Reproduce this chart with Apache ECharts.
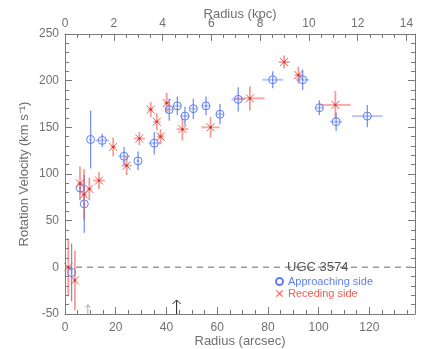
<!DOCTYPE html>
<html>
<head>
<meta charset="utf-8">
<script src="https://cdn.jsdelivr.net/npm/echarts@6/dist/echarts.min.js"></script>
<style>
html, body { margin: 0; padding: 0; background: #fff; }
#chart { width: 436px; height: 349px; }
</style>
</head>
<body>
<div id="chart"></div>
<script>
// approaching side (blue circles): radius [arcsec], velocity [km/s], errors
const appR  = [2.6, 6.0, 7.6, 10.1, 14.7, 23.3, 28.8, 35.2, 41.1, 44.3, 47.3, 50.6, 55.6, 61.1, 68.3, 81.9, 93.7, 100.3, 106.9, 119.2]
const appV  = [-5.5, 85, 68, 137, 136, 119, 114, 133, 169, 173, 162, 170, 173, 164, 180, 201, 201, 171, 156, 162]
const appDR = [0.4, 0.6, 0.5, 0.5, 2.6, 2.3, 0.6, 2.3, 1.5, 1.5, 1.8, 1.5, 1.6, 1.6, 2.6, 4.1, 2.6, 1.5, 2.5, 6.0]
const appDV = [31, 6, 31, 31, 7, 10, 10, 12, 12, 10, 10, 11, 10, 11, 13, 9, 11, 8, 10, 12]

// receding side (red crosses)
const recR  = [1.3, 3.9, 5.9, 7.5, 9.6, 13.4, 19.0, 24.3, 29.3, 33.8, 36.2, 37.7, 40.1, 46.3, 57.4, 72.9, 86.4, 92.0, 106.6]
const recV  = [0, -14, 90, 78, 84, 93, 129, 109, 138, 169, 156, 140, 176, 148, 150, 181, 220, 206, 174]
const recDR = [0.5, 0.5, 1.0, 1.0, 1.0, 2.3, 1.0, 2.0, 2.2, 1.0, 1.5, 1.5, 1.0, 2.3, 3.6, 5.8, 2.2, 1.5, 6.0]
const recDV = [31, 32, 18, 27, 12, 9, 10, 10, 7, 8, 9, 8, 11, 12, 11, 13, 7, 9, 15]

// arrows at the bottom of the plot
const arrowR   = [9, 44]
const arrowTip = [-40, -35]

const zeroLineX = [0, 138]

const blue = '#5f7ff2'
const red = '#f05a50'
const txt = '#707070'
const axisCol = '#7a7a7a'
const font = 'Liberation Sans'

const chart = echarts.init(document.getElementById('chart'))

function errBars(hCol, vCol, hw, vw) {
  return function (params, api) {
    const r = api.value(0), v = api.value(1), dr = api.value(2), dv = api.value(3)
    const l = api.coord([r - dr, v]), rt = api.coord([r + dr, v])
    const b = api.coord([r, v - dv]), t = api.coord([r, v + dv])
    return {
      type: 'group',
      children: [
        { type: 'line', shape: { x1: l[0], y1: l[1], x2: rt[0], y2: rt[1] }, style: { stroke: hCol, lineWidth: hw } },
        { type: 'line', shape: { x1: b[0], y1: b[1], x2: t[0], y2: t[1] }, style: { stroke: vCol, lineWidth: vw } }
      ]
    }
  }
}

const axisBase = {
  type: 'value',
  splitLine: { show: false },
  axisLine: { show: true, onZero: false, lineStyle: { color: axisCol, width: 1 } },
  axisTick: { show: true, inside: true, length: 7, lineStyle: { color: axisCol } },
  minorTick: { show: true, length: 4, lineStyle: { color: axisCol } },
  nameMoveOverlap: false,
  nameTextStyle: { color: txt, fontSize: 13, fontFamily: font }
}

const option = {
  animation: false,
  backgroundColor: '#fff',
  grid: { left: 65, right: 21, top: 34, bottom: 35, containLabel: false, outerBoundsMode: 'none' },
  title: {
    text: 'UGC 3574', left: 287, top: 261, padding: 0,
    textStyle: { fontSize: 13, fontWeight: 'normal', color: '#555', fontFamily: font }
  },
  legend: {
    orient: 'vertical', left: 275, top: 276, padding: 0,
    itemWidth: 7, itemHeight: 7, itemGap: 1,
    textStyle: { fontSize: 11, lineHeight: 10, fontFamily: font },
    data: [
      { name: 'Approaching side', icon: 'emptyCircle', textStyle: { color: blue } },
      { name: 'Receding side', icon: 'path://M0,1L1,0L5,4L9,0L10,1L6,5L10,9L9,10L5,6L1,10L0,9L4,5Z', textStyle: { color: red } }
    ]
  },
  xAxis: [
    Object.assign({}, axisBase, {
      position: 'bottom', min: 0, max: 138, interval: 20,
      name: 'Radius (arcsec)', nameLocation: 'middle', nameGap: 21,
      minorTick: Object.assign({}, axisBase.minorTick, { splitNumber: 4 }),
      axisLabel: { color: txt, fontSize: 12, margin: 8, fontFamily: font, showMaxLabel: false }
    }),
    Object.assign({}, axisBase, {
      position: 'top', min: 0, max: 14.35, interval: 2,
      name: 'Radius (kpc)', nameLocation: 'middle', nameGap: 13,
      minorTick: Object.assign({}, axisBase.minorTick, { splitNumber: 4 }),
      axisLabel: { color: txt, fontSize: 12, margin: 4, fontFamily: font, showMaxLabel: false }
    })
  ],
  yAxis: [
    Object.assign({}, axisBase, {
      position: 'left', min: -50, max: 250, interval: 50,
      name: 'Rotation Velocity (km s⁻¹)', nameLocation: 'middle', nameGap: 34,
      minorTick: Object.assign({}, axisBase.minorTick, { splitNumber: 5 }),
      axisLabel: { color: txt, fontSize: 12, margin: 6, fontFamily: font }
    }),
    Object.assign({}, axisBase, {
      position: 'right', min: -50, max: 250, interval: 50,
      minorTick: Object.assign({}, axisBase.minorTick, { splitNumber: 5 }),
      axisLabel: { show: false }
    })
  ],
  series: [
    {
      type: 'line', data: zeroLineX.map(x => [x, 0]), symbol: 'none', silent: true, z: 1,
      lineStyle: { color: '#9a9a9a', width: 1.5, type: [6, 5] }
    },
    {
      type: 'custom', z: 2, clip: true,
      data: appR.map((r, i) => [r, appV[i], appDR[i], appDV[i]]),
      encode: { x: 0, y: 1 },
      renderItem: errBars('rgba(95,127,242,0.45)', 'rgba(95,127,242,0.85)', 2, 1.3)
    },
    {
      type: 'custom', z: 2, clip: true,
      data: recR.map((r, i) => [r, recV[i], recDR[i], recDV[i]]),
      encode: { x: 0, y: 1 },
      renderItem: errBars('rgba(240,90,80,0.5)', 'rgba(240,90,80,0.6)', 2, 1.8)
    },
    {
      name: 'Approaching side', type: 'custom', z: 3,
      itemStyle: { color: blue },
      data: appR.map((r, i) => [r, appV[i]]),
      encode: { x: 0, y: 1 },
      renderItem: function (params, api) {
        const c = api.coord([api.value(0), api.value(1)])
        return { type: 'circle', shape: { cx: c[0], cy: c[1], r: 4 }, style: { fill: 'none', stroke: blue, lineWidth: 1 } }
      }
    },
    {
      name: 'Receding side', type: 'custom', z: 3,
      itemStyle: { color: red },
      data: recR.map((r, i) => [r, recV[i]]),
      encode: { x: 0, y: 1 },
      renderItem: function (params, api) {
        const c = api.coord([api.value(0), api.value(1)])
        const s = 4
        return {
          type: 'group',
          children: [
            { type: 'line', shape: { x1: c[0] - s, y1: c[1] - s, x2: c[0] + s, y2: c[1] + s }, style: { stroke: red, lineWidth: 1 } },
            { type: 'line', shape: { x1: c[0] - s, y1: c[1] + s, x2: c[0] + s, y2: c[1] - s }, style: { stroke: red, lineWidth: 1 } },
            { type: 'circle', shape: { cx: c[0], cy: c[1], r: 1.3 }, style: { fill: '#e03a30' } }
          ]
        }
      }
    },
    {
      type: 'custom', z: 4, silent: true,
      data: arrowR.map((r, i) => [r, arrowTip[i]]),
      encode: { x: 0, y: 1 },
      renderItem: function (params, api) {
        const big = params.dataIndex === 1
        const col = big ? '#222' : '#aaa'
        const w = big ? 4 : 2.5, h = big ? 4 : 3
        const tip = api.coord([api.value(0), api.value(1)])
        const base = api.coord([api.value(0), -50])
        return {
          type: 'group',
          children: [
            { type: 'line', shape: { x1: base[0], y1: base[1], x2: tip[0], y2: tip[1] }, style: { stroke: col, lineWidth: 1 } },
            { type: 'polyline', shape: { points: [[tip[0] - w, tip[1] + h], [tip[0], tip[1]], [tip[0] + w, tip[1] + h]] }, style: { stroke: col, lineWidth: 1, fill: 'none' } }
          ]
        }
      }
    }
  ]
}

chart.setOption(option)
</script>
</body>
</html>
